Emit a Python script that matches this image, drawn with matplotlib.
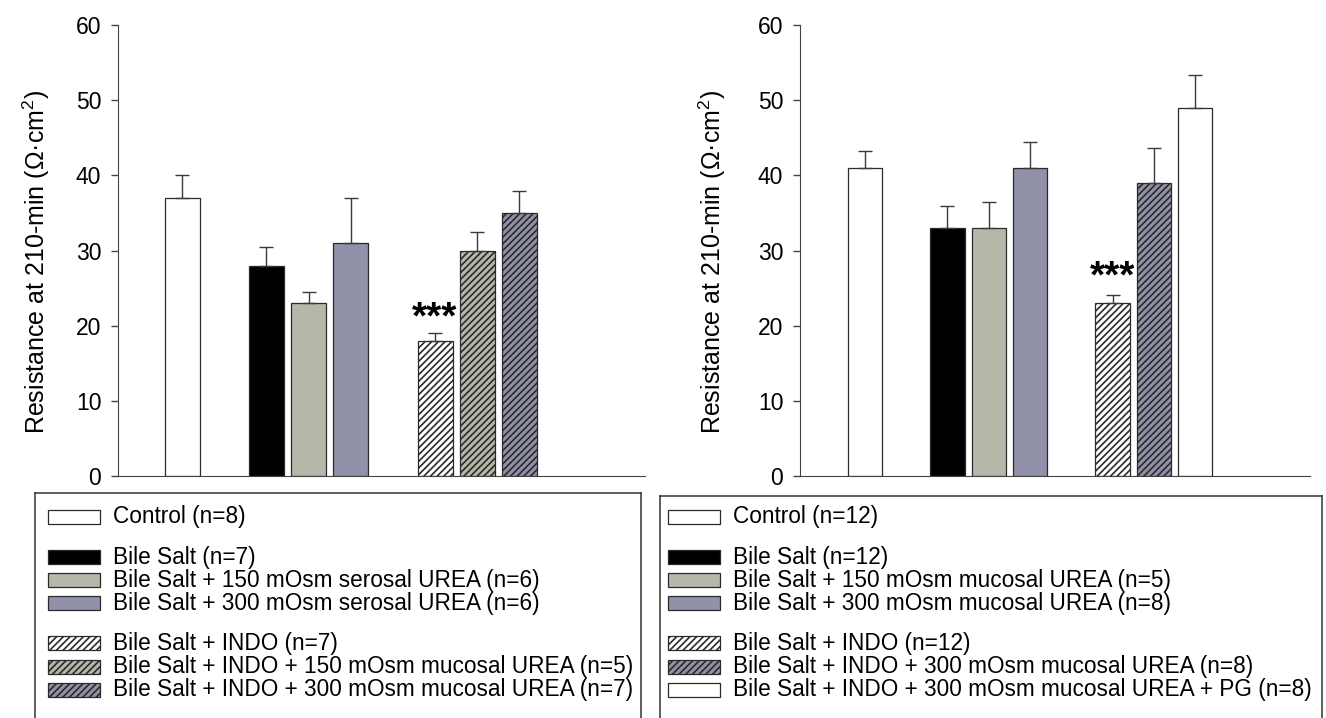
import numpy as np
import matplotlib
matplotlib.use("Agg")
import matplotlib.pyplot as plt
from matplotlib.patches import Rectangle

plt.rcParams['font.family'] = ['Liberation Sans', 'DejaVu Sans']
plt.rcParams['mathtext.fontset'] = 'custom'
plt.rcParams['mathtext.rm'] = 'Liberation Sans'
plt.rcParams['mathtext.it'] = 'Liberation Sans'
plt.rcParams['hatch.linewidth'] = 1.2

# ---- data ----
left_pos    = [0, 2, 3, 4, 6, 7, 8]
left_means  = [37, 28, 23, 31, 18, 30, 35]
left_sem    = [3.0, 2.5, 1.5, 6.0, 1.0, 2.4, 2.9]
left_labels = ['Control (n=8)',
               'Bile Salt (n=7)',
               'Bile Salt + 150 mOsm serosal UREA (n=6)',
               'Bile Salt + 300 mOsm serosal UREA (n=6)',
               'Bile Salt + INDO (n=7)',
               'Bile Salt + INDO + 150 mOsm mucosal UREA (n=5)',
               'Bile Salt + INDO + 300 mOsm mucosal UREA (n=7)']

right_pos    = [0, 2, 3, 4, 6, 7, 8]
right_means  = [41, 33, 33, 41, 23, 39, 49]
right_sem    = [2.3, 2.9, 3.5, 3.5, 1.1, 4.7, 4.4]
right_labels = ['Control (n=12)',
                'Bile Salt (n=12)',
                'Bile Salt + 150 mOsm mucosal UREA (n=5)',
                'Bile Salt + 300 mOsm mucosal UREA (n=8)',
                'Bile Salt + INDO (n=12)',
                'Bile Salt + INDO + 300 mOsm mucosal UREA (n=8)',
                'Bile Salt + INDO + 300 mOsm mucosal UREA + PG (n=8)']

GRAY   = '#b7b7a9'
PURPLE = '#9191a9'
left_colors  = ['white', 'black', GRAY, PURPLE, 'white', GRAY, PURPLE]
left_hatch   = [None, None, None, None, '/////', '/////', '/////']
right_colors = ['white', 'black', GRAY, PURPLE, 'white', PURPLE, 'white']
right_hatch  = [None, None, None, None, '/////', '/////', None]

# legend row positions (row index with gaps between groups)
legend_rows = [0, 1.74, 2.74, 3.74, 5.48, 6.5, 7.5]

sig_left  = (6, 21.0)
sig_right = (6, 26.4)

YLABEL = 'Resistance at 210-min (Ω·cm$^2$)'

fig = plt.figure(figsize=(13.26, 7.18), dpi=100)
W, H = 1326, 718


def panel(rect, pos, means, sem, colors, hatches, xlim, sig, label_x):
    ax = fig.add_axes(rect)
    for p, m, s, c, h in zip(pos, means, sem, colors, hatches):
        ax.bar(p, m, width=0.83, color=c, edgecolor='#2a2a2a', linewidth=0.9,
               hatch=h, zorder=2)
        ax.errorbar(p, m, yerr=[[0], [s]], fmt='none', ecolor='#3a3a3a',
                    elinewidth=1.0, capsize=5, capthick=1.0, zorder=3)
    ax.text(sig[0], sig[1], '***', ha='center', va='center', fontsize=28,
            fontweight='bold')
    ax.set_xlim(*xlim)
    ax.set_ylim(0, 60)
    ax.set_yticks(range(0, 61, 10))
    ax.set_xticks([])
    ax.spines['top'].set_visible(False)
    ax.spines['right'].set_visible(False)
    ax.spines['left'].set_color('#444444')
    ax.spines['bottom'].set_color('#444444')
    ax.tick_params(axis='y', direction='out', length=5, width=1,
                   color='#444444', labelsize=16.5, pad=7)
    ax.set_ylabel(YLABEL, fontsize=18)
    ax.yaxis.set_label_coords(label_x, 0.475)
    return ax


ax1 = panel([118 / W, 1 - 476 / H, (645 - 118) / W, 451 / H],
            left_pos, left_means, left_sem, left_colors, left_hatch,
            (-1.52, 10.98), sig_left, -0.125)
ax2 = panel([800 / W, 1 - 476 / H, (1310 - 800) / W, 451 / H],
            right_pos, right_means, right_sem, right_colors, right_hatch,
            (-1.57, 10.78), sig_right, -0.141)


def legend_box(x0, x1, top, patch_x, text_x, labels, colors, hatches):
    bw, bh = x1 - x0, H - top + 5
    lax = fig.add_axes([x0 / W, -5 / H, bw / W, bh / H])
    lax.set_xlim(0, bw)
    lax.set_ylim(bh, 0)
    lax.set_xticks([])
    lax.set_yticks([])
    for side in ['top', 'left', 'right']:
        lax.spines[side].set_color('#333333')
        lax.spines[side].set_linewidth(1.1)
    lax.spines['bottom'].set_visible(False)
    for r, lab, c, h in zip(legend_rows, labels, colors, hatches):
        yc = (517 - top) + r * 23
        lax.add_patch(Rectangle((patch_x, yc - 7), 52, 14, facecolor=c,
                                edgecolor='#2a2a2a', linewidth=0.9, hatch=h))
        lax.text(text_x, yc, lab, va='center', ha='left', fontsize=16.3)
    return lax


legend_box(35, 641, 493, 13, 78, left_labels, left_colors, left_hatch)
legend_box(660, 1322, 496, 8, 73, right_labels, right_colors, right_hatch)

fig.savefig('out.png', dpi=100)
